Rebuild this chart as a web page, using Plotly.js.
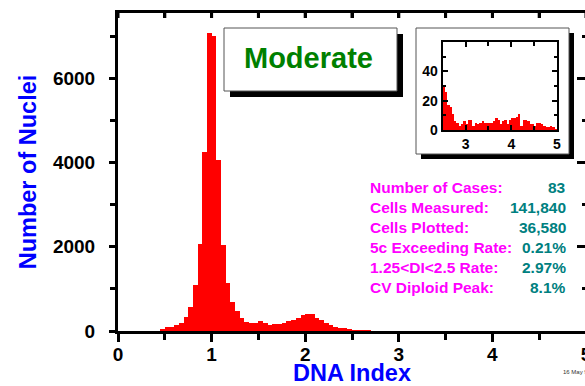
<!DOCTYPE html>
<html><head><meta charset="utf-8">
<script src="https://cdn.plot.ly/plotly-3.0.1.min.js"></script>
<style>html,body{margin:0;padding:0;overflow:hidden;background:#fff;width:585px;height:386px}</style>
</head><body><div id="chart"></div>
<script>
// ---------- data ----------
const mainBinStarts = [0.45,0.50,0.55,0.60,0.65,0.70,0.75,0.80,0.85,0.90,0.95,1.00,1.05,1.10,1.15,1.20,1.25,1.30,1.35,1.40,1.45,1.50,1.55,1.60,1.65,1.70,1.75,1.80,1.85,1.90,1.95,2.00,2.05,2.10,2.15,2.20,2.25,2.30,2.35,2.40,2.45];
const mainCounts    = [40,100,95,135,200,330,570,1090,2065,4265,7070,7020,4060,2050,1150,700,475,300,210,200,190,240,200,150,155,175,180,230,260,320,375,400,400,320,260,180,140,100,80,60,40];
const insetBinStarts = [2.50,2.55,2.60,2.65,2.70,2.75,2.80,2.85,2.90,2.95,3.00,3.05,3.10,3.15,3.20,3.25,3.30,3.35,3.40,3.45,3.50,3.55,3.60,3.65,3.70,3.75,3.80,3.85,3.90,3.95,4.00,4.05,4.10,4.15,4.20,4.25,4.30,4.35,4.40,4.45,4.50,4.55,4.60,4.65,4.70,4.75,4.80,4.85,4.90,4.95];
const insetCounts    = [31,26,17,16,11,6,5,3,4,6,4,7,7,3,5,4,5,6,5,5,5,5,6,8,7,4,6,7,4,7,8,8,9,11,3,7,7,6,4,4,3,5,5,4,3,2,2,3,2,1];
const binWidth = 0.05;
const xTickVals = [0,1,2,3,4,5];
const xTickText = ['0','1','2','3','4','5'];
const topTickVals = [0,0.5,1,1.5,2,2.5,3,3.5,4,4.5,5];
const yTickVals = [0,2000,4000,6000];
const yTickText = ['0','2000','4000','6000'];
const insetXTickVals = [3,4,5];
const insetXTickText = ['3','4','5'];
const insetYTickVals = [0,20,40];
const insetYTickText = ['0','20','40'];
const statLabels = ['Number of Cases:','Cells Measured:','Cells Plotted:','5c Exceeding Rate:','1.25<DI<2.5 Rate:','CV Diploid Peak:'];
const statValues = ['83','141,840','36,580','0.21%','2.97%','8.1%'];
const gradeLabel = 'Moderate';
const xTitle = 'DNA Index';
const yTitle = 'Number of Nuclei';
const dateStamp = '16 May 96';

// ---------- layout geometry ----------
const W = 600, H = 386, L = 118, R = 14, T = 13, B = 55;
const PW = W - L - R, PH = H - T - B;
const px = x => (x - L) / PW;
const py = y => (H - B - y) / PH;
const FONT = 'Liberation Sans, Arial, Helvetica, sans-serif';
const esc = s => s.replace(/&/g,'&amp;').replace(/</g,'&lt;').replace(/>/g,'&gt;');
const X_RANGE = [0,5], Y_RANGE = [0,7557];

const allStarts = mainBinStarts.concat(insetBinStarts);
const allCounts = mainCounts.concat(insetCounts);

const traces = [
  {type:'bar', x: allStarts, y: allCounts, width: binWidth, offset: 0,
   marker:{color:'#ff0000', line:{width:0}}, xaxis:'x', yaxis:'y', hoverinfo:'skip'},
  {type:'scatter', mode:'markers', x:[xTickVals[0]], y:[yTickVals[0]], marker:{opacity:0, size:1}, xaxis:'x2', yaxis:'y2', hoverinfo:'skip'},
  {type:'bar', x: insetBinStarts, y: insetCounts, width: binWidth, offset: 0,
   marker:{color:'#ff0000', line:{width:0}}, xaxis:'x3', yaxis:'y3', hoverinfo:'skip'}
];

const tickFont = {family: FONT, size: 19, color:'#000', weight:'bold'};
const insetTickFont = {family: FONT, size: 14, color:'#000', weight:'bold'};

const layout = {
  width: W, height: H,
  margin: {l: L, r: R, t: T, b: B, pad: 0},
  paper_bgcolor:'#fff', plot_bgcolor:'rgba(0,0,0,0)',
  showlegend:false, bargap:0, barmode:'overlay',
  xaxis: {domain:[0,1], range:X_RANGE, anchor:'y', showgrid:false, zeroline:false,
    showline:true, linewidth:3, linecolor:'#000',
    ticks:'outside', ticklen:8, tickwidth:3, tickcolor:'#000',
    tickvals:xTickVals, ticktext:xTickText, tickfont:tickFont, ticklabelstandoff:-4,
    minor:{dtick:0.5, tick0:0, ticks:'outside', ticklen:6, tickwidth:3, tickcolor:'#000', showgrid:false},
    title:{text:xTitle, font:{family:FONT, size:23.5, color:'#0000ff', weight:'bold'}, standoff:11}},
  yaxis: {domain:[0,1], range:Y_RANGE, anchor:'x', showgrid:false, zeroline:false,
    showline:true, linewidth:3, linecolor:'#000',
    ticks:'outside', ticklen:6, tickwidth:3, tickcolor:'#000',
    tickvals:yTickVals, ticktext:yTickText, tickfont:tickFont, ticklabelstandoff:10,
    minor:{dtick:1000, tick0:0, ticks:'outside', ticklen:5, tickwidth:3, tickcolor:'#000', showgrid:false},
    title:{text:yTitle, font:{family:FONT, size:23.5, color:'#0000ff', weight:'bold'}, standoff:10}},
  xaxis2: {domain:[0,1], anchor:'y2', side:'top', range:X_RANGE, showgrid:false, zeroline:false,
    showline:true, linewidth:3, linecolor:'#000',
    ticks:'inside', ticklen:5, tickwidth:3, tickcolor:'#000', dtick:0.5, tick0:0, showticklabels:false},
  yaxis2: {domain:[0,1], anchor:'x2', side:'right', range:Y_RANGE, showgrid:false, zeroline:false,
    showline:true, linewidth:3, linecolor:'#000',
    ticks:'inside', ticklen:9, tickwidth:3, tickcolor:'#000', dtick:2000, tick0:0, showticklabels:false,
    minor:{dtick:1000, tick0:0, ticks:'inside', ticklen:4, tickwidth:3, tickcolor:'#000', showgrid:false}},
  xaxis3: {domain:[px(442.7), px(557)], range:[2.5,5], anchor:'y3', showgrid:false, zeroline:false,
    showline:true, linewidth:2, linecolor:'#000', mirror:'ticks',
    ticks:'inside', ticklen:5, tickwidth:2, tickcolor:'#000',
    tickvals:insetXTickVals, ticktext:insetXTickText, tickfont:insetTickFont,
    minor:{dtick:0.5, tick0:0, ticks:'inside', ticklen:4, tickwidth:2, tickcolor:'#000', showgrid:false}},
  yaxis3: {domain:[py(130), py(42)], range:[0,60], anchor:'x3', showgrid:false, zeroline:false,
    showline:true, linewidth:2, linecolor:'#000', mirror:'ticks',
    ticks:'inside', ticklen:5, tickwidth:2, tickcolor:'#000',
    tickvals:insetYTickVals, ticktext:insetYTickText, tickfont:insetTickFont,
    minor:{dtick:10, tick0:0, ticks:'inside', ticklen:3, tickwidth:2, tickcolor:'#000', showgrid:false}},
  shapes: [
    {type:'rect', xref:'paper', yref:'paper', x0:px(230), x1:px(403), y0:py(97), y1:py(34), fillcolor:'#000', line:{width:0}, layer:'below'},
    {type:'rect', xref:'paper', yref:'paper', x0:px(224), x1:px(397), y0:py(91), y1:py(28), fillcolor:'#fff', line:{width:1, color:'#555'}, layer:'below'},
    {type:'rect', xref:'paper', yref:'paper', x0:px(421), x1:px(574), y0:py(159), y1:py(33), fillcolor:'#000', line:{width:0}, layer:'below'},
    {type:'rect', xref:'paper', yref:'paper', x0:px(416), x1:px(569), y0:py(154), y1:py(28), fillcolor:'#fff', line:{width:1, color:'#555'}, layer:'below'},
    // top frame line
    {type:'line', xref:'paper', yref:'paper', x0:px(L - 3), x1:1, y0:py(T - 1.5), y1:py(T - 1.5), line:{width:3, color:'#000'}, layer:'above'}
  ],
  annotations: []
};

// top frame inward ticks, placed on the data x scale
topTickVals.forEach(v => {
  layout.shapes.push({type:'line', xref:'x', yref:'paper', x0:v, x1:v, y0:py(T - 1), y1:py(T + 5),
    line:{width:3, color:'#000'}, layer:'above'});
});

layout.annotations.push({xref:'paper', yref:'paper', x:px(308.5), y:py(58), text:gradeLabel, showarrow:false,
  xanchor:'center', yanchor:'middle', font:{family:FONT, size:29, color:'#008000', weight:'bold'}});

statLabels.forEach((lab, i) => {
  const yy = py(187 + 20*i);
  layout.annotations.push({xref:'paper', yref:'paper', x:px(368), y:yy, text:esc(lab), showarrow:false,
    xanchor:'left', yanchor:'middle', font:{family:FONT, size:15.5, color:'#ff00ff', weight:'bold'}});
  layout.annotations.push({xref:'paper', yref:'paper', x:px(568), y:yy, text:esc(statValues[i]), showarrow:false,
    xanchor:'right', yanchor:'middle', font:{family:FONT, size:15.5, color:'#008080', weight:'bold'}});
});

layout.annotations.push({xref:'paper', yref:'paper', x:px(561), y:py(372), text:dateStamp, showarrow:false,
  xanchor:'left', yanchor:'middle', font:{family:FONT, size:6, color:'#333'}});

Plotly.newPlot('chart', traces, layout, {staticPlot:true, displayModeBar:false});
</script></body></html>
